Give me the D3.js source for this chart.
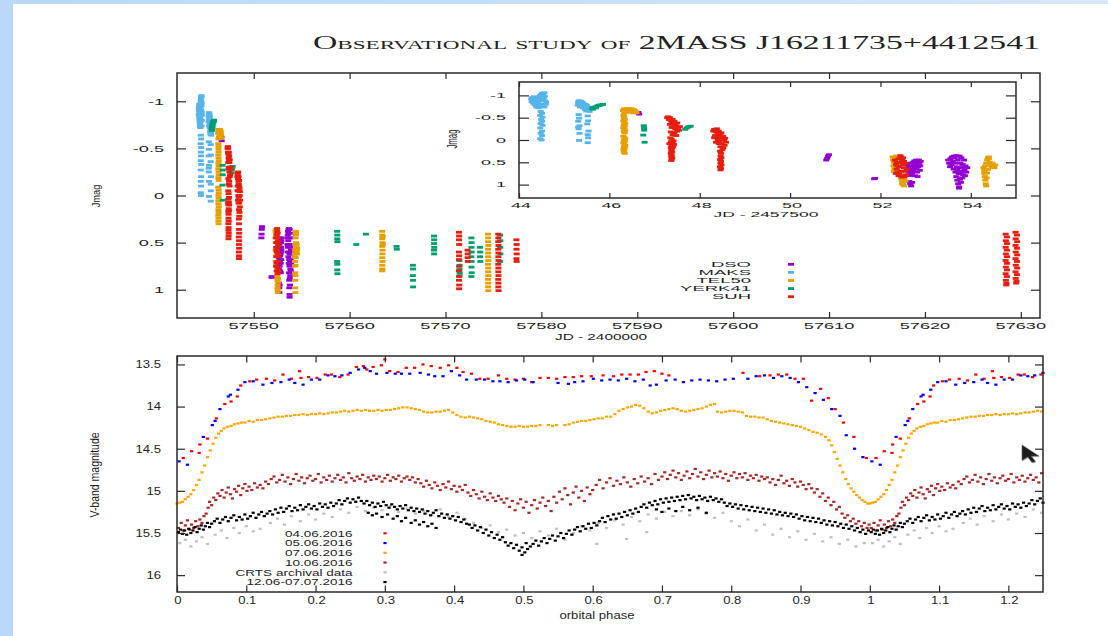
<!DOCTYPE html>
<html>
<head>
<meta charset="utf-8">
<script src="https://cdn.jsdelivr.net/npm/d3@7"></script>
<style>
  html, body { margin: 0; padding: 0; background: #fff; }
  svg { display: block; }
</style>
</head>
<body>
<svg id="chart" width="1108" height="636"></svg>
<script>
// ---------------------------------------------------------------
// Upper panel: J-band magnitude vs JD, points as [JD - 2457500, Jmag]
// ---------------------------------------------------------------
const jSeriesNames  = ["DSO", "MAKS", "TEL50", "YERK41", "SUH"];
const jSeriesColors = ["#9400d3", "#56b4e9", "#e69f00", "#009e73", "#e51e10"];

const dsoJ = [
  [46.64,-0.62],[46.66,-0.58],
  [50.80,0.45],[50.82,0.41],[50.84,0.36],[50.86,0.33],
  [51.86,0.87],[51.88,0.86],
  [52.58,0.55],[52.60,0.62],[52.61,0.70],[52.62,0.78],[52.63,0.66],[52.64,0.58],[52.65,0.72],[52.66,0.80],
  [52.67,0.60],[52.68,0.52],[52.69,0.68],[52.70,0.75],[52.71,0.62],[52.72,0.50],[52.73,0.70],[52.74,0.58],
  [52.75,0.47],[52.76,0.64],[52.77,0.80],[52.78,0.55],[52.79,0.45],[52.80,0.62],[52.81,0.72],[52.82,0.82],
  [52.83,0.60],[52.84,0.50],[52.85,0.45],[52.86,0.55],[52.87,0.68],[52.88,0.58],[52.89,0.48],
  [52.64,0.93],[52.66,0.98],[52.68,1.03],[52.70,0.95],
  [53.50,0.45],[53.52,0.52],[53.54,0.60],[53.55,0.42],[53.57,0.55],[53.58,0.38],[53.60,0.48],[53.62,0.65],
  [53.63,0.36],[53.65,0.52],[53.66,0.72],[53.68,0.82],[53.69,0.60],[53.70,0.90],[53.71,0.45],[53.72,0.98],
  [53.73,0.75],[53.74,1.05],[53.75,0.62],[53.76,0.88],[53.77,0.52],[53.78,0.95],[53.79,0.40],[53.80,0.70],
  [53.81,0.85],[53.82,0.55],[53.83,0.78],[53.84,0.62],[53.85,0.45],[53.86,0.68],[53.87,0.80],[53.88,0.58],
  [53.90,0.72],[53.92,0.62],[53.74,1.08],[53.68,0.35],[53.75,0.36],[53.64,0.40],[53.70,0.68],[53.78,0.74]
];

const maksJ = [
  [44.27,-0.92],[44.28,-0.86],[44.29,-0.95],[44.30,-0.90],[44.31,-0.83],[44.32,-0.93],[44.33,-0.88],[44.34,-0.80],
  [44.35,-0.91],[44.36,-0.85],[44.37,-0.78],[44.38,-0.84],[44.39,-0.90],[44.40,-0.76],[44.41,-0.86],[44.42,-0.73],
  [44.43,-0.82],[44.44,-0.72],[44.45,-0.88],[44.46,-0.96],[44.47,-1.00],[44.48,-0.92],[44.49,-1.02],[44.50,-0.97],
  [44.51,-1.05],[44.52,-1.00],[44.53,-0.90],[44.54,-1.04],[44.55,-0.95],[44.56,-1.06],[44.57,-0.98],[44.58,-0.88],
  [44.59,-0.80],[44.60,-0.85],[44.45,-0.78],[44.38,-0.74],[44.33,-0.97],[44.52,-0.80],[44.56,-0.74],
  [44.48,-0.64],[44.51,-0.60],[44.47,-0.55],[44.52,-0.51],[44.49,-0.46],[44.51,-0.42],[44.48,-0.37],[44.52,-0.33],
  [44.47,-0.27],[44.51,-0.20],[44.48,-0.15],[44.51,-0.10],[44.47,-0.03],[44.50,0.00],
  [45.30,-0.78],[45.31,-0.84],[45.32,-0.88],[45.33,-0.80],[45.34,-0.86],[45.35,-0.74],[45.36,-0.85],[45.37,-0.82],
  [45.38,-0.87],[45.40,-0.79],[45.41,-0.84],[45.43,-0.81],[45.45,-0.76],[45.47,-0.80],[45.48,-0.72],[45.50,-0.78],
  [45.51,-0.70],[45.52,-0.66],[45.53,-0.74],[45.55,-0.68],[45.56,-0.64],[45.58,-0.70],[45.46,-0.68],[45.49,-0.65],
  [45.42,-0.72],
  [45.32,-0.57],[45.33,-0.49],[45.31,-0.42],[45.34,-0.32],[45.32,-0.25],[45.33,0.01],[45.52,-0.54],[45.53,-0.43],
  [45.51,-0.36],[45.54,-0.20],[45.52,-0.12],[45.53,-0.05],[45.52,0.06],[45.34,-0.15],[45.31,-0.29]
];

const tel50J = [
  [46.30,-0.66],[46.32,-0.69],[46.34,-0.70],[46.36,-0.68],[46.38,-0.69],[46.40,-0.70],[46.42,-0.68],[46.44,-0.70],
  [46.46,-0.68],[46.48,-0.70],[46.50,-0.69],[46.52,-0.67],[46.54,-0.68],[46.56,-0.66],[46.58,-0.64],[46.60,-0.61],
  [46.44,-0.64],[46.38,-0.62],[46.33,-0.60],[46.48,-0.63],[46.52,-0.61],
  [46.31,-0.55],[46.33,-0.52],[46.32,-0.49],[46.34,-0.46],[46.31,-0.43],[46.33,-0.40],[46.35,-0.37],[46.32,-0.34],
  [46.34,-0.31],[46.31,-0.28],[46.33,-0.25],[46.35,-0.22],[46.32,-0.19],[46.34,-0.16],[46.31,-0.09],[46.33,-0.06],
  [46.35,-0.03],[46.32,0.00],[46.34,0.03],[46.31,0.06],[46.33,0.09],[46.35,0.12],[46.32,0.15],[46.34,0.18],
  [46.31,0.21],[46.33,0.24],[46.32,0.27],[46.34,0.30],
  [52.27,0.38],[52.28,0.45],[52.30,0.50],[52.29,0.58],[52.31,0.64],[52.30,0.70],[52.32,0.40],[52.34,0.36],
  [52.36,0.42],[52.45,0.85],[52.47,0.90],[52.49,0.95],[52.50,1.00],[52.52,1.03],[52.48,0.98],[52.53,0.88],
  [52.55,0.92],[52.46,0.80],[52.40,0.60],[52.42,0.70],[52.44,0.50],
  [54.30,0.75],[54.31,0.82],[54.32,0.90],[54.33,0.98],[54.34,1.03],[54.35,0.85],[54.30,0.65],[54.32,0.58],
  [54.34,0.52],[54.36,0.45],[54.38,0.40],[54.40,0.42],[54.42,0.50],[54.44,0.55],[54.46,0.60],[54.48,0.52],
  [54.50,0.58],[54.52,0.62],[54.54,0.56],[54.28,0.62],[54.30,0.70],[54.36,0.74],[54.38,0.66],[54.40,0.38],
  [63.40,0.38],[63.42,0.42],[63.40,0.46],[63.43,0.50],[63.41,0.54],[63.44,0.58],[63.42,0.62],[63.40,0.66],
  [63.43,0.70],[63.41,0.74],[63.42,0.78],[63.40,0.80],[63.45,0.44],[63.46,0.52],
  [74.44,0.41],[74.46,0.45],[74.45,0.49],[74.47,0.53],[74.44,0.57],[74.46,0.61],[74.45,0.65],[74.47,0.69],
  [74.44,0.73],[74.46,0.77],[74.45,0.81],[74.47,0.85],[74.44,0.89],[74.46,0.93],[74.45,0.97],[74.47,1.01]
];

const yerkJ = [
  [45.62,-0.71],[45.65,-0.73],[45.68,-0.74],[45.71,-0.75],[45.74,-0.77],[45.77,-0.78],[45.80,-0.78],[45.83,-0.79],
  [45.86,-0.80],[45.64,-0.69],[45.70,-0.72],
  [46.76,-0.32],[46.77,-0.22],[46.75,-0.11],[46.78,0.05],[46.77,-0.27],
  [47.68,-0.24],[47.71,-0.27],[47.74,-0.29],[47.77,-0.30],[47.80,-0.31],
  [58.70,0.38],[58.72,0.42],[58.71,0.46],[58.73,0.49],[58.70,0.70],[58.72,0.73],[58.71,0.79],[58.73,0.83],
  [60.70,0.52],[61.70,0.41],[64.90,0.54],[64.92,0.57],
  [66.60,0.74],[66.62,0.78],[66.60,0.85],[66.61,0.90],[66.62,0.97],
  [68.80,0.43],[68.82,0.47],[68.81,0.51],[68.83,0.55],[68.80,0.58],[68.82,0.62],
  [71.45,0.69],[71.47,0.74],[71.46,0.78],[71.48,0.82],[71.47,0.85],
  [72.70,0.45],[72.72,0.50],[72.71,0.55],[72.73,0.60],[72.70,0.65],[72.72,0.70],[72.71,0.76],[72.73,0.82],[72.70,0.86],
  [73.60,0.55],[73.62,0.60],[73.61,0.65],[73.63,0.70],
  [75.70,0.42],[75.72,0.48],[75.71,0.55],[75.73,0.62],[75.70,0.70]
];

const suhJ = [
  [47.28,-0.50],[47.30,-0.52],[47.32,-0.46],[47.34,-0.50],[47.36,-0.44],[47.38,-0.40],[47.40,-0.46],[47.42,-0.38],
  [47.44,-0.42],[47.46,-0.35],[47.48,-0.30],[47.50,-0.38],[47.52,-0.28],[47.54,-0.22],[47.56,-0.30],[47.50,-0.20],
  [47.46,-0.25],[47.42,-0.30],[47.38,-0.28],[47.36,-0.18],[47.34,-0.35],[47.40,-0.12],[47.44,-0.15],[47.48,-0.10],
  [47.35,-0.05],[47.38,-0.02],[47.36,0.04],[47.40,0.07],[47.37,0.10],[47.39,0.14],[47.36,0.17],[47.38,0.20],
  [47.37,0.24],[47.39,0.27],[47.36,0.30],[47.38,0.34],[47.37,0.37],[47.39,0.40],[47.38,0.43],[47.37,0.46],
  [47.42,0.02],[47.43,0.10],[47.41,0.16],[47.33,0.08],
  [48.30,-0.20],[48.32,-0.24],[48.34,-0.22],[48.36,-0.18],[48.38,-0.25],[48.40,-0.15],[48.42,-0.20],[48.44,-0.12],
  [48.46,-0.10],[48.48,-0.16],[48.50,-0.05],[48.52,-0.08],[48.54,0.00],[48.56,-0.04],[48.58,0.05],[48.55,0.12],
  [48.52,0.18],[48.50,0.22],[48.48,0.08],[48.46,0.15],[48.44,0.02],[48.42,0.08],[48.40,0.00],[48.38,-0.05],
  [48.36,0.05],[48.34,-0.10],[48.32,-0.05],[48.45,0.25],[48.47,0.30],[48.46,0.36],[48.48,0.40],[48.45,0.44],
  [48.47,0.48],[48.46,0.52],[48.48,0.56],[48.45,0.60],[48.47,0.64],[48.46,0.67],
  [52.32,0.45],[52.34,0.55],[52.36,0.65],[52.38,0.72],[52.40,0.80],[52.42,0.60],[52.44,0.50],[52.46,0.38],
  [52.48,0.45],[52.50,0.55],[52.52,0.62],[52.54,0.70],[52.56,0.78],[52.58,0.65],[52.55,0.52],[52.53,0.82],
  [52.46,0.70],[52.44,0.35],[52.40,0.42],[52.36,0.50],[52.34,0.75],[52.42,0.76],[52.48,0.83],[52.50,0.40],
  [52.52,0.48],[52.38,0.58],
  [71.40,0.39],[71.42,0.43],[71.41,0.47],[71.43,0.52],[71.40,0.60],[71.42,0.64],[71.41,0.68],[71.43,0.75],
  [71.40,0.80],[71.42,0.86],[71.41,0.90],[71.43,0.95],[71.42,0.99],
  [72.30,0.58],[72.32,0.62],[72.31,0.66],[72.33,0.70],
  [75.50,0.41],[75.52,0.45],[75.51,0.49],[75.53,0.53],[75.50,0.57],[75.52,0.61],[75.51,0.65],[75.53,0.69],
  [75.50,0.73],[75.52,0.77],[75.51,0.81],[75.53,0.85],[75.50,0.89],[75.52,0.93],[75.51,0.97],[75.53,1.01],
  [77.40,0.47],[77.42,0.52],[77.41,0.57],[77.43,0.62],[77.40,0.67],[77.42,0.70],
  [128.42,0.41],[128.55,0.44],[128.44,0.48],[128.56,0.51],[128.42,0.55],[128.55,0.58],[128.44,0.62],[128.56,0.65],
  [128.42,0.69],[128.55,0.72],[128.44,0.76],[128.56,0.79],[128.42,0.83],[128.55,0.86],[128.44,0.90],[128.50,0.93],
  [128.48,0.95],
  [129.45,0.39],[129.60,0.42],[129.47,0.46],[129.62,0.49],[129.45,0.53],[129.60,0.56],[129.47,0.60],[129.62,0.63],
  [129.45,0.67],[129.60,0.70],[129.47,0.74],[129.62,0.77],[129.45,0.81],[129.60,0.84],[129.47,0.88],[129.55,0.91],
  [129.52,0.93]
];

const jdTicks       = [57550, 57560, 57570, 57580, 57590, 57600, 57610, 57620, 57630];
const jTicks        = [-1, -0.5, 0, 0.5, 1];
const jTickLabels   = ["-1", "-0.5", "0", "0.5", "1"];
const insetTicks    = [44, 46, 48, 50, 52, 54];

// ---------------------------------------------------------------
// Lower panel: V-band light curves folded on the orbital period,
// points as [phase, V]; phases 0-0.25 are repeated after phase 1
// ---------------------------------------------------------------
const lcNames  = ["04.06.2016", "05.06.2016", "07.06.2016", "10.06.2016", "CRTS archival data", "12.06-07.07.2016"];
const lcColors = ["#ff0000", "#0000ff", "#ffa500", "#a52a2a", "#c0c0c0", "#000000"];

const v0406 = [
  [0.009,14.61],[0.021,14.53],[0.032,14.55],[0.033,14.45],[0.044,14.38],[0.057,14.14],[0.069,13.97],[0.078,13.94],
  [0.087,13.88],[0.092,13.75],[0.105,13.70],[0.115,13.68],[0.129,13.67],[0.141,13.69],[0.153,13.62],[0.165,13.67],
  [0.177,13.58],[0.179,13.66],[0.190,13.65],[0.202,13.66],[0.214,13.62],[0.223,13.62],[0.235,13.65],[0.247,13.62],
  [0.259,13.53],[0.269,13.52],[0.274,13.56],[0.283,13.53],[0.295,13.51],[0.300,13.44],[0.307,13.58],[0.319,13.59],
  [0.331,13.54],[0.343,13.54],[0.355,13.50],[0.367,13.52],[0.380,13.54],[0.392,13.51],[0.404,13.54],[0.413,13.59],
  [0.425,13.61],[0.437,13.67],[0.449,13.67],[0.464,13.63],[0.476,13.67],[0.488,13.68],[0.500,13.67],[0.512,13.71],
  [0.524,13.66],[0.536,13.66],[0.548,13.67],[0.560,13.65],[0.572,13.65],[0.584,13.64],[0.598,13.64],[0.615,13.63],
  [0.630,13.64],[0.642,13.62],[0.654,13.62],[0.666,13.62],[0.677,13.59],[0.689,13.58],[0.700,13.61],[0.710,13.63],
  [0.817,13.60],[0.841,13.64],[0.856,13.63],[0.868,13.62],[0.880,13.62],[0.892,13.67],[0.904,13.67],[0.916,13.93],
  [0.929,13.79],[0.940,13.90],[0.950,14.03],[0.962,14.19],[0.977,14.36],[0.995,14.61]
];

const v0506 = [
  [0.003,14.65],[0.015,14.69],[0.038,14.36],[0.051,14.22],[0.055,14.17],[0.062,14.03],[0.074,13.88],[0.077,13.86],
  [0.088,13.80],[0.098,13.71],[0.110,13.70],[0.124,13.74],[0.137,13.72],[0.150,13.71],[0.162,13.68],[0.170,13.72],
  [0.182,13.74],[0.194,13.68],[0.206,13.68],[0.218,13.63],[0.228,13.64],[0.238,13.63],[0.250,13.60],[0.262,13.56],
  [0.271,13.54],[0.279,13.58],[0.288,13.61],[0.303,13.60],[0.315,13.61],[0.324,13.61],[0.336,13.61],[0.351,13.60],
  [0.363,13.62],[0.372,13.64],[0.384,13.64],[0.396,13.58],[0.408,13.63],[0.418,13.68],[0.432,13.68],[0.444,13.68],
  [0.456,13.70],[0.466,13.70],[0.478,13.71],[0.490,13.69],[0.502,13.68],[0.514,13.71],[0.550,13.72],[0.565,13.73],
  [0.574,13.71],[0.586,13.70],[0.601,13.67],[0.613,13.69],[0.625,13.68],[0.637,13.69],[0.649,13.67],[0.661,13.70],
  [0.673,13.68],[0.683,13.75],[0.692,13.74],[0.706,13.69],[0.719,13.68],[0.731,13.71],[0.743,13.69],[0.755,13.68],
  [0.767,13.69],[0.779,13.70],[0.791,13.68],[0.803,13.67],[0.824,13.67],[0.836,13.64],[0.848,13.63],[0.861,13.66],
  [0.873,13.64],[0.885,13.66],[0.897,13.71],[0.909,13.77],[0.921,13.84],[0.933,13.92],[0.945,14.03],[0.957,14.11],
  [0.966,14.34],[0.978,14.50],[0.990,14.60]
];

const v0706 = [
  [0.000,15.15],[0.004,15.14],[0.008,15.13],[0.012,15.10],[0.016,15.07],[0.020,15.04],[0.024,14.99],[0.028,14.93],
  [0.032,14.87],[0.036,14.78],[0.040,14.70],[0.044,14.60],[0.048,14.52],[0.052,14.44],[0.056,14.37],[0.060,14.32],
  [0.064,14.29],[0.068,14.26],[0.073,14.24],[0.078,14.23],[0.083,14.21],[0.088,14.20],[0.093,14.19],[0.098,14.19],
  [0.104,14.17],[0.110,14.18],[0.116,14.16],[0.122,14.16],[0.128,14.15],[0.134,14.14],[0.140,14.13],[0.146,14.12],
  [0.152,14.12],[0.158,14.11],[0.164,14.11],[0.170,14.10],[0.176,14.10],[0.182,14.09],[0.188,14.10],[0.194,14.09],
  [0.200,14.09],[0.206,14.08],[0.212,14.09],[0.218,14.08],[0.224,14.07],[0.230,14.07],[0.236,14.06],[0.242,14.05],
  [0.248,14.06],[0.254,14.05],[0.260,14.04],[0.266,14.05],[0.272,14.04],[0.278,14.05],[0.284,14.05],[0.290,14.04],
  [0.296,14.05],[0.302,14.04],[0.308,14.04],[0.314,14.03],[0.320,14.02],[0.326,14.01],[0.332,14.01],[0.338,14.02],
  [0.344,14.03],[0.350,14.04],[0.356,14.06],[0.362,14.07],[0.368,14.07],[0.374,14.06],[0.380,14.06],[0.386,14.05],
  [0.392,14.04],[0.398,14.07],[0.404,14.10],[0.410,14.12],[0.416,14.13],[0.422,14.12],[0.428,14.13],[0.434,14.14],
  [0.440,14.15],[0.446,14.17],[0.452,14.18],[0.458,14.19],[0.464,14.21],[0.470,14.22],[0.476,14.23],[0.482,14.24],
  [0.488,14.24],[0.494,14.23],[0.500,14.24],[0.506,14.24],[0.512,14.23],[0.518,14.23],[0.524,14.22],[0.536,14.22],
  [0.542,14.23],[0.548,14.22],[0.560,14.22],[0.566,14.21],[0.572,14.19],[0.578,14.18],[0.584,14.17],[0.590,14.17],
  [0.596,14.16],[0.602,14.15],[0.608,14.14],[0.614,14.14],[0.620,14.12],[0.626,14.12],[0.632,14.09],[0.638,14.05],
  [0.644,14.03],[0.650,14.01],[0.656,14.00],[0.662,13.98],[0.668,13.99],[0.674,14.02],[0.680,14.06],[0.686,14.08],
  [0.692,14.07],[0.698,14.05],[0.704,14.04],[0.710,14.03],[0.716,14.02],[0.722,14.03],[0.728,14.05],[0.734,14.06],
  [0.740,14.05],[0.746,14.04],[0.752,14.03],[0.758,14.02],[0.764,14.00],[0.770,13.98],[0.776,13.97],[0.780,14.06],
  [0.786,14.07],[0.792,14.06],[0.798,14.05],[0.804,14.05],[0.810,14.06],[0.816,14.07],[0.822,14.11],[0.828,14.12],
  [0.834,14.12],[0.840,14.13],[0.846,14.13],[0.852,14.15],[0.858,14.17],[0.864,14.18],[0.870,14.19],[0.876,14.20],
  [0.882,14.21],[0.888,14.22],[0.894,14.23],[0.900,14.24],[0.906,14.26],[0.912,14.28],[0.918,14.30],[0.924,14.31],
  [0.930,14.33],[0.936,14.36],[0.941,14.40],[0.945,14.46],[0.949,14.54],[0.953,14.62],[0.957,14.70],[0.961,14.78],
  [0.965,14.86],[0.969,14.92],[0.973,14.97],[0.977,15.01],[0.981,15.05],[0.985,15.08],[0.989,15.11],[0.993,15.13],
  [0.997,15.15]
];

const v1006 = [
  [0.002,15.44],[0.006,15.38],[0.009,15.47],[0.012,15.41],[0.015,15.35],[0.018,15.46],[0.021,15.40],[0.024,15.44],
  [0.027,15.36],[0.030,15.42],[0.033,15.34],[0.036,15.38],[0.039,15.30],[0.042,15.27],[0.045,15.20],[0.047,15.13],
  [0.050,15.17],[0.053,15.08],[0.056,15.11],[0.059,15.03],[0.062,15.06],[0.065,14.99],[0.068,15.08],[0.071,15.02],
  [0.074,14.96],[0.077,15.04],[0.080,15.09],[0.083,14.98],[0.086,15.01],[0.089,14.94],[0.092,15.05],[0.095,14.97],
  [0.098,14.92],[0.101,15.00],[0.104,14.95],[0.108,14.99],[0.112,14.91],[0.116,14.96],[0.120,14.93],[0.124,14.97],
  [0.128,14.89],[0.132,14.92],[0.136,14.86],[0.140,14.83],[0.144,14.90],[0.148,14.87],[0.152,14.81],[0.156,14.89],
  [0.160,14.84],[0.164,14.92],[0.168,14.86],[0.172,14.80],[0.176,14.88],[0.180,14.84],[0.184,14.91],[0.188,14.85],
  [0.192,14.82],[0.196,14.88],[0.200,14.86],[0.204,14.80],[0.208,14.90],[0.212,14.84],[0.216,14.87],[0.220,14.82],
  [0.224,14.89],[0.228,14.85],[0.232,14.81],[0.236,14.87],[0.240,14.84],[0.244,14.90],[0.248,14.79],[0.252,14.85],
  [0.256,14.88],[0.260,14.83],[0.264,14.86],[0.268,14.81],[0.272,14.89],[0.276,14.84],[0.280,14.87],[0.284,14.82],
  [0.288,14.86],[0.292,14.83],[0.296,14.89],[0.300,14.85],[0.304,14.81],[0.308,14.88],[0.312,14.84],[0.316,14.86],
  [0.320,14.82],[0.324,14.89],[0.328,14.85],[0.332,14.83],[0.336,14.87],[0.340,14.84],[0.344,14.90],[0.348,14.86],
  [0.352,14.91],[0.356,14.95],[0.360,14.88],[0.364,14.93],[0.368,14.97],[0.372,14.90],[0.376,14.94],[0.380,14.99],
  [0.384,14.92],[0.388,14.96],[0.392,14.89],[0.396,14.98],[0.400,14.94],[0.404,15.01],[0.408,14.95],[0.412,14.99],
  [0.416,14.93],[0.420,15.02],[0.424,15.06],[0.428,14.99],[0.432,15.04],[0.436,15.09],[0.440,15.01],[0.444,15.07],
  [0.448,15.11],[0.452,15.03],[0.456,15.08],[0.460,15.12],[0.464,15.06],[0.468,15.10],[0.472,15.14],[0.476,15.09],
  [0.480,15.19],[0.484,15.12],[0.488,15.23],[0.492,15.15],[0.496,15.10],[0.500,15.20],[0.504,15.13],[0.508,15.26],
  [0.512,15.17],[0.516,15.11],[0.520,15.21],[0.524,15.14],[0.528,15.08],[0.532,15.18],[0.536,15.12],[0.540,15.24],
  [0.544,15.07],[0.548,15.14],[0.552,15.01],[0.556,15.10],[0.560,14.97],[0.564,15.05],[0.568,15.16],[0.572,15.02],
  [0.576,14.95],[0.580,15.08],[0.584,15.00],[0.588,15.12],[0.592,14.96],[0.596,15.04],[0.600,14.99],[0.605,14.93],
  [0.610,14.87],[0.615,14.97],[0.620,14.90],[0.625,14.85],[0.630,14.94],[0.635,14.88],[0.640,14.92],[0.645,14.84],
  [0.650,14.90],[0.655,14.95],[0.660,14.86],[0.665,14.91],[0.670,14.83],[0.675,14.89],[0.680,14.85],[0.685,14.92],
  [0.690,14.80],[0.695,14.87],[0.700,14.83],[0.704,14.78],[0.708,14.86],[0.712,14.81],[0.716,14.76],[0.720,14.84],
  [0.724,14.79],[0.728,14.87],[0.732,14.82],[0.736,14.77],[0.740,14.85],[0.744,14.80],[0.748,14.74],[0.752,14.83],
  [0.756,14.78],[0.760,14.86],[0.764,14.81],[0.768,14.76],[0.772,14.84],[0.776,14.79],[0.780,14.83],[0.784,14.77],
  [0.788,14.85],[0.792,14.80],[0.796,14.88],[0.800,14.82],[0.804,14.78],[0.808,14.85],[0.812,14.80],[0.816,14.84],
  [0.820,14.79],[0.824,14.87],[0.828,14.82],[0.832,14.85],[0.836,14.81],[0.840,14.88],[0.844,14.83],[0.848,14.86],
  [0.852,14.84],[0.856,14.90],[0.860,14.86],[0.864,14.93],[0.868,14.87],[0.872,14.82],[0.876,14.91],[0.880,14.88],
  [0.884,14.94],[0.888,14.86],[0.892,14.90],[0.896,14.95],[0.900,14.89],[0.904,14.93],[0.908,14.98],[0.912,14.92],
  [0.916,14.97],[0.920,15.02],[0.924,14.98],[0.928,15.07],[0.932,15.03],[0.936,15.12],[0.940,15.08],[0.944,15.17],
  [0.948,15.13],[0.952,15.22],[0.956,15.19],[0.960,15.27],[0.964,15.32],[0.968,15.29],[0.972,15.36],[0.976,15.33],
  [0.980,15.39],[0.984,15.36],[0.988,15.42],[0.992,15.38],[0.996,15.44],[0.999,15.40]
];

const vCrts = [
  [0.004,15.62],[0.012,15.58],[0.020,15.66],[0.028,15.60],[0.036,15.55],[0.044,15.63],[0.055,15.52],[0.064,15.47],
  [0.072,15.56],[0.082,15.44],[0.090,15.50],[0.100,15.42],[0.110,15.48],[0.120,15.45],[0.135,15.38],[0.145,15.33],
  [0.155,15.40],[0.165,15.30],[0.178,15.36],[0.190,15.28],[0.200,15.34],[0.212,15.27],[0.224,15.31],[0.236,15.22],
  [0.248,15.26],[0.260,15.19],[0.272,15.24],[0.284,15.20],[0.296,15.23],[0.308,15.18],[0.320,15.25],[0.332,15.21],
  [0.344,15.27],[0.356,15.24],[0.368,15.29],[0.380,15.22],[0.392,15.31],[0.404,15.26],[0.416,15.33],[0.428,15.38],
  [0.440,15.44],[0.452,15.41],[0.464,15.49],[0.476,15.46],[0.488,15.53],[0.500,15.50],[0.512,15.56],[0.524,15.48],
  [0.536,15.53],[0.548,15.45],[0.560,15.58],[0.572,15.50],[0.584,15.42],[0.596,15.47],[0.606,15.63],[0.608,15.38],
  [0.620,15.44],[0.632,15.35],[0.644,15.40],[0.649,15.57],[0.656,15.31],[0.668,15.36],[0.678,15.49],[0.680,15.28],
  [0.692,15.33],[0.704,15.25],[0.716,15.30],[0.728,15.24],[0.740,15.29],[0.752,15.22],[0.764,15.27],[0.776,15.32],
  [0.788,15.26],[0.800,15.36],[0.812,15.42],[0.824,15.34],[0.836,15.47],[0.848,15.40],[0.860,15.52],[0.872,15.45],
  [0.884,15.55],[0.896,15.48],[0.908,15.58],[0.920,15.51],[0.932,15.60],[0.944,15.55],[0.956,15.63],[0.968,15.58],
  [0.980,15.66],[0.992,15.62]
];

const vLate = [
  [0.002,15.49],[0.005,15.46],[0.008,15.51],[0.011,15.47],[0.014,15.52],[0.017,15.45],[0.020,15.50],[0.023,15.47],
  [0.026,15.43],[0.029,15.49],[0.032,15.45],[0.035,15.41],[0.038,15.46],[0.041,15.42],[0.044,15.38],[0.047,15.43],
  [0.050,15.39],[0.054,15.36],[0.058,15.33],[0.062,15.38],[0.066,15.34],[0.070,15.31],[0.074,15.36],[0.078,15.32],
  [0.082,15.29],[0.086,15.35],[0.090,15.31],[0.094,15.34],[0.098,15.28],[0.102,15.33],[0.106,15.30],[0.110,15.26],
  [0.114,15.32],[0.118,15.28],[0.122,15.25],[0.126,15.30],[0.130,15.27],[0.134,15.24],[0.138,15.28],[0.142,15.22],
  [0.146,15.26],[0.150,15.20],[0.154,15.25],[0.158,15.21],[0.162,15.18],[0.166,15.24],[0.170,15.20],[0.174,15.23],
  [0.178,15.17],[0.182,15.22],[0.186,15.19],[0.190,15.16],[0.194,15.21],[0.198,15.18],[0.202,15.22],[0.206,15.15],
  [0.210,15.19],[0.214,15.16],[0.218,15.20],[0.222,15.14],[0.226,15.18],[0.230,15.15],[0.234,15.11],[0.238,15.16],
  [0.242,15.12],[0.246,15.09],[0.250,15.14],[0.254,15.10],[0.258,15.13],[0.262,15.08],[0.266,15.12],[0.270,15.15],
  [0.274,15.12],[0.278,15.17],[0.282,15.14],[0.286,15.19],[0.290,15.15],[0.294,15.18],[0.298,15.13],[0.302,15.17],
  [0.306,15.20],[0.310,15.16],[0.314,15.19],[0.318,15.22],[0.322,15.18],[0.326,15.21],[0.330,15.17],[0.334,15.23],
  [0.338,15.20],[0.342,15.24],[0.346,15.21],
  [0.276,15.26],[0.282,15.29],[0.288,15.27],[0.296,15.31],[0.304,15.28],[0.312,15.33],[0.318,15.30],[0.324,15.36],
  [0.330,15.32],[0.338,15.38],[0.344,15.35],[0.350,15.40],[0.356,15.37],[0.362,15.42],[0.368,15.39],[0.374,15.44],
  [0.350,15.25],[0.354,15.22],[0.358,15.27],[0.362,15.24],[0.366,15.29],[0.370,15.26],[0.374,15.23],[0.378,15.30],
  [0.382,15.27],[0.386,15.32],[0.390,15.28],[0.394,15.33],[0.398,15.30],[0.402,15.35],[0.406,15.31],[0.410,15.37],
  [0.414,15.34],[0.418,15.39],[0.422,15.40],[0.426,15.44],[0.430,15.41],[0.434,15.47],[0.438,15.43],[0.442,15.50],
  [0.446,15.46],[0.450,15.53],[0.454,15.49],[0.458,15.56],[0.462,15.52],[0.466,15.58],[0.470,15.55],[0.474,15.61],
  [0.478,15.65],[0.482,15.62],[0.486,15.68],[0.490,15.64],[0.494,15.71],[0.498,15.67],[0.502,15.73],[0.506,15.69],
  [0.510,15.66],[0.498,15.76],[0.504,15.62],[0.514,15.63],[0.518,15.59],[0.522,15.65],[0.526,15.60],[0.530,15.56],
  [0.534,15.62],[0.538,15.57],[0.542,15.53],[0.546,15.59],[0.550,15.54],[0.554,15.50],[0.558,15.56],[0.562,15.51],
  [0.566,15.47],[0.570,15.52],[0.574,15.46],[0.578,15.43],[0.582,15.48],[0.586,15.42],[0.590,15.45],[0.594,15.39],
  [0.598,15.44],[0.602,15.38],[0.606,15.41],[0.610,15.36],[0.614,15.32],[0.618,15.37],[0.622,15.30],[0.626,15.34],
  [0.630,15.28],[0.634,15.33],[0.638,15.27],[0.642,15.31],[0.646,15.25],[0.650,15.29],[0.654,15.23],[0.658,15.27],
  [0.662,15.21],[0.666,15.25],[0.670,15.19],[0.674,15.16],[0.678,15.20],[0.682,15.14],[0.686,15.17],[0.690,15.12],
  [0.694,15.16],[0.698,15.10],[0.702,15.14],[0.706,15.09],[0.710,15.13],[0.714,15.08],[0.718,15.12],[0.722,15.07],
  [0.726,15.11],[0.730,15.06],[0.734,15.10],[0.738,15.05],[0.742,15.09],[0.746,15.07],[0.750,15.11],[0.754,15.06],
  [0.758,15.10],[0.762,15.08],[0.766,15.12],[0.770,15.07],[0.774,15.11],[0.778,15.09],[0.782,15.13],[0.786,15.10],
  [0.692,15.22],[0.700,15.25],[0.710,15.21],[0.720,15.24],[0.730,15.19],[0.740,15.23],[0.752,15.20],[0.764,15.26],
  [0.790,15.14],[0.794,15.18],[0.798,15.15],[0.802,15.19],[0.806,15.16],[0.810,15.21],[0.814,15.17],[0.818,15.22],
  [0.822,15.18],[0.826,15.23],[0.830,15.19],[0.834,15.24],[0.838,15.20],[0.842,15.25],[0.846,15.21],[0.850,15.26],
  [0.854,15.22],[0.858,15.27],[0.862,15.23],[0.866,15.28],[0.870,15.25],[0.874,15.29],[0.878,15.26],[0.882,15.30],
  [0.886,15.27],[0.890,15.31],[0.894,15.28],[0.898,15.33],[0.902,15.30],[0.906,15.35],[0.910,15.31],[0.914,15.36],
  [0.918,15.32],[0.922,15.37],[0.926,15.33],[0.930,15.38],[0.934,15.35],[0.938,15.40],[0.942,15.36],[0.946,15.41],
  [0.950,15.37],[0.954,15.42],[0.958,15.39],[0.962,15.44],[0.966,15.40],[0.970,15.45],[0.974,15.42],[0.978,15.47],
  [0.982,15.44],[0.986,15.49],[0.990,15.46],[0.994,15.51],[0.998,15.47]
];

const phaseTicks      = [0, 0.1, 0.2, 0.3, 0.4, 0.5, 0.6, 0.7, 0.8, 0.9, 1, 1.1, 1.2];
const phaseTickLabels = ["0", "0.1", "0.2", "0.3", "0.4", "0.5", "0.6", "0.7", "0.8", "0.9", "1", "1.1", "1.2"];
const vTicks          = [13.5, 14, 14.5, 15, 15.5, 16];
const vTickLabels     = ["13.5", "14", "14.5", "15", "15.5", "16"];

// ---------------------------------------------------------------
const svg = d3.select("#chart");
const SANS = "'Liberation Sans', Arial, Helvetica, sans-serif";
const INK = "#1e1e1e";

// page background: pale blue margin with the white sheet on top
const defs = svg.append("defs");
const grad = defs.append("linearGradient").attr("id", "margin").attr("x1", 0).attr("x2", 1).attr("y1", 0).attr("y2", 0);
grad.append("stop").attr("offset", "0%").attr("stop-color", "#b9d7f7");
grad.append("stop").attr("offset", "100%").attr("stop-color", "#d6e8fb");
svg.append("rect").attr("width", 1108).attr("height", 636).attr("fill", "url(#margin)");
svg.append("rect").attr("x", 13).attr("y", 4).attr("width", 1095).attr("height", 632).attr("fill", "#fff");

// text helper: labels are drawn with a horizontal stretch
function label(g, x, y, str, o = {}) {
  const sx = o.sx || 1, rot = o.rotate || 0;
  const tf = rot ? `translate(${x},${y}) rotate(${rot}) scale(1,${sx})` : `translate(${x},${y}) scale(${sx},1)`;
  return g.append("text")
    .attr("transform", tf)
    .attr("text-anchor", o.anchor || "middle")
    .attr("font-family", o.family || SANS)
    .attr("font-size", o.size || 10)
    .attr("fill", o.fill || INK)
    .text(str);
}

// frame with inward ticks mirrored on all four sides
function frame(g, x, y, xt, yt, lenX, lenY) {
  const [x0, x1] = x.range(), [y0, y1] = y.range();
  const axes = [
    g.append("g").attr("transform", `translate(0,${y1})`).call(d3.axisBottom(x).tickValues(xt).tickSize(-lenX).tickFormat("")),
    g.append("g").attr("transform", `translate(0,${y0})`).call(d3.axisTop(x).tickValues(xt).tickSize(-lenX).tickFormat("")),
    g.append("g").attr("transform", `translate(${x0},0)`).call(d3.axisLeft(y).tickValues(yt).tickSize(-lenY).tickFormat("")),
    g.append("g").attr("transform", `translate(${x1},0)`).call(d3.axisRight(y).tickValues(yt).tickSize(-lenY).tickFormat(""))
  ];
  axes.forEach(a => {
    a.select(".domain").remove();
    a.selectAll("text").remove();
    a.selectAll("line").attr("stroke", "#2a2a2a").attr("stroke-width", 1.2);
  });
  g.append("rect").attr("x", x0).attr("y", y0).attr("width", x1 - x0).attr("height", y1 - y0)
    .attr("fill", "none").attr("stroke", "#2a2a2a").attr("stroke-width", 1.5);
}

// title
svg.append("text")
  .attr("x", 313).attr("y", 49)
  .attr("font-family", "'Liberation Serif', 'DejaVu Serif', serif")
  .attr("font-size", 19)
  .attr("font-variant", "small-caps")
  .attr("fill", "#222")
  .attr("textLength", 727).attr("lengthAdjust", "spacingAndGlyphs")
  .text("Observational study of 2MASS J16211735+4412541");

// ---------------- upper panel ----------------
const jData = [dsoJ, maksJ, tel50J, yerkJ, suhJ];
const upper = svg.append("g");
const xJD = d3.scaleLinear().domain([57542, 57632]).range([177, 1040]);
const yJ  = d3.scaleLinear().domain([-1.3, 1.3]).range([73, 318]);
const TSX = 1.95, TSZ = 9.3;

jData.forEach((pts, i) => {
  upper.append("g").selectAll("rect").data(pts).join("rect")
    .attr("x", d => xJD(57500 + d[0]) - 3).attr("y", d => yJ(d[1]) - 1.4)
    .attr("width", 6).attr("height", 2.8).attr("fill", jSeriesColors[i]);
});
frame(upper, xJD, yJ, jdTicks, jTicks, 6, 9);
jTicks.forEach((v, i) => label(upper, 164, yJ(v) + 3.4, jTickLabels[i], { anchor: "end", sx: TSX, size: TSZ }));
jdTicks.forEach(v => label(upper, xJD(v), 329, String(v), { sx: TSX, size: TSZ }));
label(upper, 601, 340, "JD - 2400000", { sx: 1.65, size: TSZ });
label(upper, 100, 196, "Jmag", { rotate: -90, sx: 1.1, size: TSZ });

// legend
jSeriesNames.forEach((n, i) => {
  const yy = 264.3 + i * 8.1;
  label(upper, 751, yy + 2.7, n, { anchor: "end", sx: 2.5, size: 7.4 });
  upper.append("rect").attr("x", 788).attr("y", yy - 1.4).attr("width", 6).attr("height", 2.8).attr("fill", jSeriesColors[i]);
});

// inset: first eleven days
const inset = svg.append("g");
const xIn = d3.scaleLinear().domain([44, 55]).range([519, 1016]);
const yIn = d3.scaleLinear().domain([-1.3, 1.3]).range([82, 198]);
const ISX = 2.3, ISZ = 7.8;
inset.append("rect").attr("x", 519).attr("y", 82).attr("width", 497).attr("height", 116).attr("fill", "#fff");
defs.append("clipPath").attr("id", "insetClip").append("rect").attr("x", 519).attr("y", 82).attr("width", 497).attr("height", 116);
const inPts = inset.append("g").attr("clip-path", "url(#insetClip)");
jData.forEach((pts, i) => {
  inPts.append("g").selectAll("rect").data(pts.filter(d => d[0] >= 43.8 && d[0] <= 55.2)).join("rect")
    .attr("x", d => xIn(d[0]) - 3).attr("y", d => yIn(d[1]) - 1.4)
    .attr("width", 6).attr("height", 2.8).attr("fill", jSeriesColors[i]);
});
frame(inset, xIn, yIn, insetTicks, jTicks, 5, 10);
jTicks.forEach((v, i) => label(inset, 506, yIn(v) + 2.8, jTickLabels[i], { anchor: "end", sx: ISX, size: ISZ }));
insetTicks.forEach(v => label(inset, xIn(v) + 2, 208, String(v), { sx: ISX, size: ISZ }));
label(inset, 766, 217.2, "JD - 2457500", { sx: 2.3, size: 7.6 });
label(inset, 457, 139, "Jmag", { rotate: -90, sx: 1.8, size: 7.8 });

// ---------------- lower panel ----------------
const lower = svg.append("g");
const xPh = d3.scaleLinear().domain([0, 1.25]).range([177, 1043]);
const yV  = d3.scaleLinear().domain([13.4, 16.2]).range([356, 592]);
const BSX = 1.25, BSZ = 10.5;
const fold = pts => pts.concat(pts.filter(d => d[0] <= 0.25).map(d => [d[0] + 1, d[1]]));
const vData = [v0406, v0506, v0706, v1006, vCrts, vLate];

vData.forEach((pts, i) => {
  lower.append("g").selectAll("rect").data(fold(pts).filter(d => d[0] <= 1.25)).join("rect")
    .attr("x", d => xPh(d[0]) - 1.6).attr("y", d => yV(d[1]) - 1.1)
    .attr("width", 3.2).attr("height", 2.2).attr("fill", lcColors[i]);
});
frame(lower, xPh, yV, phaseTicks, vTicks, 6.5, 8);
vTicks.forEach((v, i) => label(lower, 161, yV(v) + 3.8, vTickLabels[i], { anchor: "end", sx: BSX, size: BSZ }));
phaseTicks.forEach((v, i) => label(lower, xPh(v) + 1, 604, phaseTickLabels[i], { sx: BSX, size: BSZ }));
label(lower, 597, 619, "orbital phase", { sx: 1.25, size: BSZ });
label(lower, 99, 475, "V-band magnitude", { rotate: -90, sx: 1.2, size: BSZ });

lcNames.forEach((n, i) => {
  const yy = 533.3 + i * 9.75;
  label(lower, 352.5, yy + 3.4, n, { anchor: "end", sx: 1.38, size: 9.8 });
  lower.append("rect").attr("x", 383.4).attr("y", yy - 1.1).attr("width", 3.2).attr("height", 2.2).attr("fill", lcColors[i]);
});

// mouse pointer resting over the page
const arrow = [[0,0],[0,15.5],[3.6,12],[6.2,17.5],[8.4,16.6],[5.8,11.2],[10.6,11]];
const ax = 1022, ay = 445;
svg.append("polygon")
  .attr("points", arrow.map(p => `${ax + 1 + p[0] * 1.6},${ay + 1 + p[1]}`).join(" "))
  .attr("fill", "#999").attr("opacity", 0.6);
svg.append("polygon")
  .attr("points", arrow.map(p => `${ax + p[0] * 1.6},${ay + p[1]}`).join(" "))
  .attr("fill", "#1c1c1c").attr("stroke", "#666").attr("stroke-width", 0.6);
</script>
</body>
</html>
